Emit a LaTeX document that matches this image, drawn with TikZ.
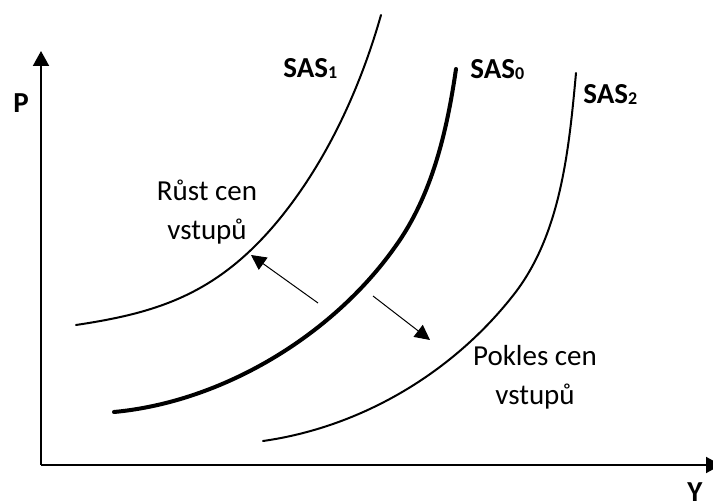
\documentclass[tikz,border=0pt]{standalone}
\usepackage{fontspec}
\setmainfont{Carlito}
\usetikzlibrary{arrows.meta}

\newcommand{\lowsub}[1]{\raisebox{-0.3pt}{\fontsize{9}{9}\selectfont #1}}

\begin{document}
\begin{tikzpicture}[x=0.5pt, y=-0.5pt, >={Triangle[length=7.5pt,width=8pt]},
		axis/.style={->, line width=1pt},
		curve/.style={line width=1pt, line cap=round},
		shiftarrow/.style={->, line width=0.5pt, >={Triangle[length=7.5pt,width=7.5pt]}},
		curvelabel/.style={font=\fontsize{14.5}{19}\selectfont\bfseries, anchor=base west, inner sep=0pt},
		note/.style={font=\fontsize{14.5}{19.5}\selectfont, align=center, anchor=base, inner sep=0pt}]
				\useasboundingbox (0,0) rectangle (713,502);

				% axes
				\coordinate (O)    at (41,465);
				\coordinate (Ptop) at (41,51);
				\coordinate (Yend) at (721,465);
				\draw[axis] (O) -- (Ptop);
				\draw[axis] (O) -- (Yend);
				\node[curvelabel] (P) at (13,113) {P};
				\node[curvelabel] (Y) at (687,502) {Y};

				% supply curves
				\draw[curve] (76,325) .. controls (156,313) and (216,295) .. (277,222)
				                      .. controls (326,163) and (360,89) .. (381,15);
				\draw[curve, line width=2pt] (114,412) .. controls (222,402) and (332,336) .. (395,247)
				                      .. controls (432,196) and (447,131) .. (456,69);
				\draw[curve] (263,441) .. controls (362,427) and (454,372) .. (515,293)
				                      .. controls (561,233) and (569,149) .. (576,73);

				\node[curvelabel] (SAS1) at (283,78)  {SAS\lowsub{1}};
				\node[curvelabel] (SAS0) at (470,79)  {SAS\lowsub{0}};
				\node[curvelabel] (SAS2) at (583,104) {SAS\lowsub{2}};

				% shifts
				\coordinate (L0) at (318,303);
				\coordinate (L1) at (251,255);
				\coordinate (R0) at (373,296);
				\coordinate (R1) at (430,340);
				\draw[shiftarrow] (L0) -- (L1);
				\draw[shiftarrow] (R0) -- (R1);

				\node[note] (Up)   at (207,240) {Růst cen\\vstupů};
				\node[note] (Down) at (535,405) {Pokles cen\\vstupů};
\end{tikzpicture}
\end{document}
